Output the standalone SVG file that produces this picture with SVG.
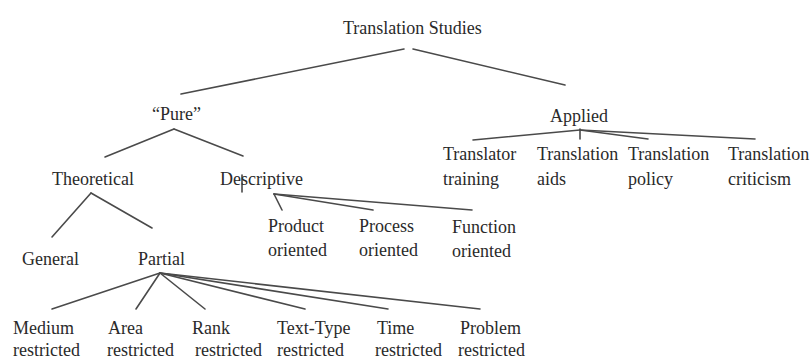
<svg xmlns="http://www.w3.org/2000/svg" width="811" height="360" viewBox="0 0 811 360" font-family="'Liberation Serif', 'Times New Roman', Times, 'DejaVu Serif', serif">
<style>
text{font-family:'Liberation Serif','Times New Roman',Times,'DejaVu Serif',serif;font-size:18px;fill:#2a2a2a}
.c line{stroke:#4a4a4a;stroke-width:1.6;stroke-linecap:round}
</style>
<rect width="811" height="360" fill="#fff"/>
<g class="c" id="connectors">
<line x1="404" y1="49" x2="181" y2="94"/>
<line x1="413" y1="49" x2="565" y2="85"/>
<line x1="174" y1="129" x2="105" y2="157"/>
<line x1="174" y1="129" x2="243" y2="156"/>
<line x1="242" y1="175" x2="242" y2="192"/>
<line x1="91" y1="193" x2="52" y2="237"/>
<line x1="91" y1="193" x2="152" y2="228"/>
<line x1="274" y1="194" x2="282" y2="210"/>
<line x1="274" y1="194" x2="373" y2="210"/>
<line x1="274" y1="194" x2="472" y2="210"/>
<line x1="580" y1="130" x2="473" y2="140"/>
<line x1="580" y1="130" x2="648" y2="139"/>
<line x1="580" y1="130" x2="755" y2="139"/>
<line x1="580" y1="129" x2="580" y2="139"/>
<line x1="160" y1="273" x2="52" y2="309"/>
<line x1="160" y1="273" x2="136" y2="309"/>
<line x1="160" y1="273" x2="205" y2="309"/>
<line x1="160" y1="273" x2="305" y2="309"/>
<line x1="160" y1="273" x2="388" y2="309"/>
<line x1="160" y1="273" x2="480" y2="309"/>
</g>
<g id="n-ts"><text x="343" y="34">Translation Studies</text></g>
<g id="n-pure"><text x="152" y="120">“Pure”</text></g>
<g id="n-applied"><text x="550" y="122">Applied</text></g>
<g id="n-theoretical"><text x="52" y="185">Theoretical</text></g>
<g id="n-descriptive"><text x="220" y="185">Descriptive</text></g>
<g id="n-general"><text x="22" y="265">General</text></g>
<g id="n-partial"><text x="138" y="265">Partial</text></g>
<g id="n-product"><text x="268" y="232">Product<tspan x="268" y="256">oriented</tspan></text></g>
<g id="n-process"><text x="359" y="232">Process<tspan x="359" y="256">oriented</tspan></text></g>
<g id="n-function"><text x="452" y="233">Function<tspan x="452" y="257">oriented</tspan></text></g>
<g id="n-training"><text x="443" y="160">Translator<tspan x="443" y="185">training</tspan></text></g>
<g id="n-aids"><text x="537" y="160">Translation<tspan x="537" y="185">aids</tspan></text></g>
<g id="n-policy"><text x="628" y="160">Translation<tspan x="628" y="185">policy</tspan></text></g>
<g id="n-criticism"><text x="728" y="160">Translation<tspan x="728" y="185">criticism</tspan></text></g>
<g id="n-medium"><text x="13" y="334">Medium<tspan x="13" y="356">restricted</tspan></text></g>
<g id="n-area"><text x="108" y="334">Area<tspan x="107" y="356">restricted</tspan></text></g>
<g id="n-rank"><text x="192" y="334">Rank<tspan x="195" y="356">restricted</tspan></text></g>
<g id="n-texttype"><text x="277" y="334">Text-Type<tspan x="277" y="356">restricted</tspan></text></g>
<g id="n-time"><text x="377" y="334">Time<tspan x="375" y="356">restricted</tspan></text></g>
<g id="n-problem"><text x="460" y="334">Problem<tspan x="458" y="356">restricted</tspan></text></g>
</svg>
